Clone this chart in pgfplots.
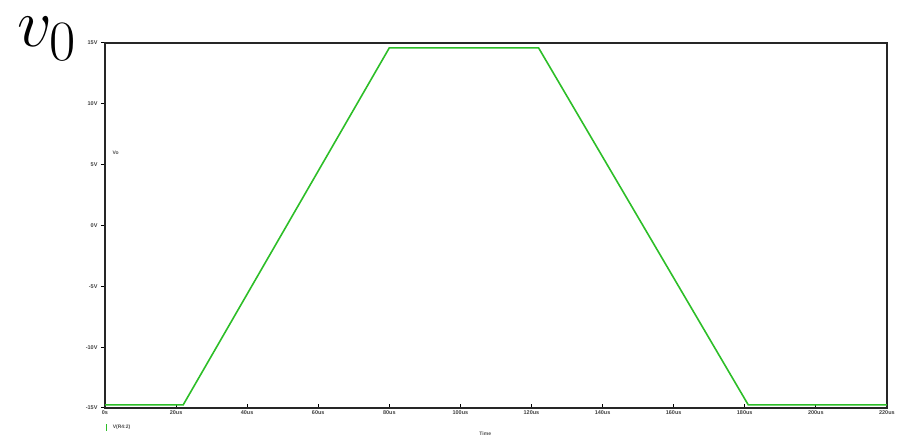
\documentclass[border=0pt]{standalone}
\usepackage{pgfplots}
\pgfplotsset{compat=1.18}
\usepackage{fontspec}
\setmainfont{Liberation Sans}
\definecolor{pgreen}{RGB}{45,190,40}
\begin{document}
\begin{tikzpicture}[x=1pt,y=1pt]
\path (0,0) rectangle (898,437);
\node[anchor=base west,inner sep=0pt,scale=2.75] at (17,390) {\Huge $v_0$};
\begin{axis}[
  at={(105pt,29pt)}, anchor=south west,
  scale only axis, width=782pt, height=365pt,
  xmin=0, xmax=220, ymin=-15, ymax=15,
  axis line style={line width=1.6pt, black!85},
  xtick={0,20,...,220},
  xticklabels={0s,20us,40us,60us,80us,100us,120us,140us,160us,180us,200us,220us},
  ytick={-15,-10,-5,0,5,10,15},
  yticklabels={-15V,-10V,-5V,0V,5V,10V,15V},
  xtick pos=bottom, ytick pos=left,
  tick style={line width=1pt, black},
  major tick length=4pt,
  xtick align=inside, ytick align=outside,
  tick label style={font=\fontsize{5.5}{6}\selectfont\bfseries, text=black!75},
  xticklabel style={yshift=1pt},
  clip=false,
]
\addplot[pgreen, line width=1.6pt] coordinates {
 (0,-14.75) (22,-14.75) (80,14.6) (122,14.6) (181,-14.75) (220,-14.75)
};
\node[font=\fontsize{5}{6}\selectfont\bfseries, text=black!70] at (axis cs:3,6) {V\tiny o};
\node[font=\fontsize{5}{6}\selectfont\bfseries, text=black!70] at (axis cs:107,-17.1) {Time};
\node[font=\fontsize{5}{6}\selectfont\bfseries, text=black!70, anchor=west] at (axis cs:1.2,-16.6) {V(R4:2)};
\fill[pgreen] (axis cs:0.2,-16.9) rectangle (axis cs:0.6,-16.3);
\end{axis}
\end{tikzpicture}
\end{document}
